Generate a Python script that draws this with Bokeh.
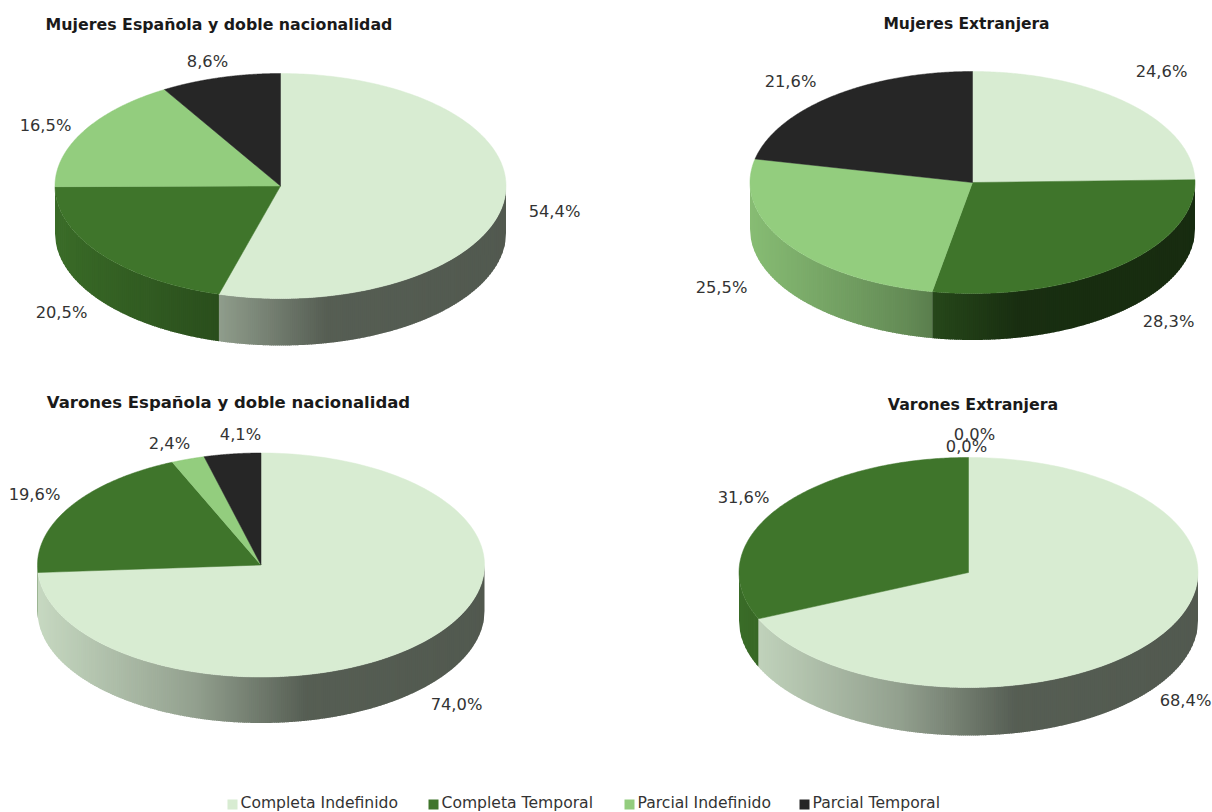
import numpy as np
from bokeh.plotting import figure
from bokeh.models import Range1d, ColumnDataSource
from bokeh.core.properties import value
from bokeh.embed import file_html
from bokeh.resources import INLINE

categories = ["Completa Indefinido", "Completa Temporal", "Parcial Indefinido", "Parcial Temporal"]
colors = ["#D8ECD2", "#3F752B", "#93CD7E", "#262626"]

titles = ["Mujeres Española y doble nacionalidad", "Mujeres Extranjera",
          "Varones Española y doble nacionalidad", "Varones Extranjera"]
mujeres_esp = [54.4, 20.5, 16.5, 8.6]
mujeres_ext = [24.6, 28.3, 25.5, 21.6]
varones_esp = [74.0, 19.6, 2.4, 4.1]
varones_ext = [68.4, 31.6, 0.0, 0.0]
series = [mujeres_esp, mujeres_ext, varones_esp, varones_ext]

# layout: centre x, centre y, radius x, radius y, depth
geometry = [(280, 185.5, 225.5, 112.5, 47), (972, 182, 222.5, 111, 46.5),
            (260.5, 564.5, 223.5, 112, 46), (968, 572, 229.5, 115, 48)]
title_pos = [(218.5, 24), (966, 23), (228, 402), (972.5, 404)]
title_size = ["15.8px", "15.5px", "16.5px", "15.8px"]
label_pos = [[(554, 211), (61, 312), (45, 125), (207, 61)],
             [(1161, 71), (1168, 321), (721, 287), (790, 81)],
             [(456, 704), (34, 494), (169, 443), (240, 434)],
             [(1185, 700), (743, 497), (974, 434), (966, 446)]]
legend_square_x = [232, 433, 629, 804]
legend_text_x = [240, 441, 637, 812]
legend_y = 804
legend_text_y = 802

FONT = "DejaVu Sans"
shade_t = [0, 0.35, 0.6, 1]
shade_v = [0.92, 0.68, 0.40, 0.38]
STRIP = 2.0
OVERLAP = 0.8

def shaded(col, k):
    r, g, b = int(col[1:3], 16), int(col[3:5], 16), int(col[5:7], 16)
    return "#%02x%02x%02x" % (int(r * k), int(g * k), int(b * k))

p = figure(width=1212, height=812, x_range=Range1d(0, 1212), y_range=Range1d(812, 0),
           output_backend="svg", toolbar_location=None, min_border=0,
           background_fill_color="white", border_fill_color="white", outline_line_color=None)
p.axis.visible = False
p.grid.visible = False
p.styles = {"position": "absolute", "left": "0px", "top": "0px"}

for vals, (cx, cy, rx, ry, d) in zip(series, geometry):
    total = sum(vals)
    edges = np.concatenate([[0], np.cumsum(vals)]) / total * 2 * np.pi
    # side wall: vertical strips laid right to left, each overlapping the last
    xs, ys, cols = [], [], []
    rim = lambda x: cy + ry * np.sqrt(np.clip(1 - ((x - cx) / rx) ** 2, 0, 1))
    for i, col in enumerate(colors):
        a0, a1 = max(edges[i], np.pi / 2), min(edges[i + 1], 3 * np.pi / 2)
        if a1 <= a0:
            continue
        xr, xl = cx + rx * np.sin(a0), cx + rx * np.sin(a1)
        n = max(1, int((xr - xl) / STRIP))
        bounds = np.linspace(xr, xl, n + 1)
        for j, (x1, x0) in enumerate(zip(bounds[:-1], bounds[1:])):
            xe = x1 if j == 0 else min(x1 + OVERLAP, xr)
            xm = np.linspace(x0, xe, 4)
            yt = rim(xm)
            xs.append(np.concatenate([xm, xm[::-1]]))
            ys.append(np.concatenate([yt, (yt + d)[::-1]]))
            cols.append(shaded(col, np.interp(((x0 + x1) / 2 - (cx - rx)) / (2 * rx), shade_t, shade_v)))
    p.patches(xs, ys, fill_color=cols, line_color=None)
    # top face
    xs, ys, cols = [], [], []
    for i, col in enumerate(colors):
        if vals[i] <= 0:
            continue
        th = np.linspace(edges[i], edges[i + 1], 200)
        xs.append(np.concatenate([[cx], cx + rx * np.sin(th)]))
        ys.append(np.concatenate([[cy], cy - ry * np.cos(th)]))
        cols.append(col)
    p.patches(xs, ys, fill_color=cols, line_color=cols, line_width=0.5)

# value labels
lx, ly, lt = [], [], []
for vals, pos in zip(series, label_pos):
    for v, (x, y) in zip(vals, pos):
        lx.append(x); ly.append(y); lt.append(f"{v:.1f}%".replace(".", ","))
p.text(lx, ly, text=lt, text_font=value(FONT), text_font_size="16.3px", text_color="#333333",
       text_align="center", text_baseline="middle")

# titles
title_source = ColumnDataSource(dict(x=[q[0] for q in title_pos], y=[q[1] for q in title_pos],
                                     t=titles, s=title_size))
p.text("x", "y", text="t", source=title_source, text_font=value(FONT), text_font_size="s",
       text_font_style="bold", text_color="#1a1a1a", text_align="center", text_baseline="middle")

# legend
p.scatter(legend_square_x, [legend_y] * 4, marker="square", size=10, fill_color=colors, line_color=None)
p.text(legend_text_x, [legend_text_y] * 4, text=categories, text_font=value(FONT), text_font_size="15.6px",
       text_color="#333333", text_align="left", text_baseline="middle")

open("out.html", "w").write(file_html(p, INLINE))
